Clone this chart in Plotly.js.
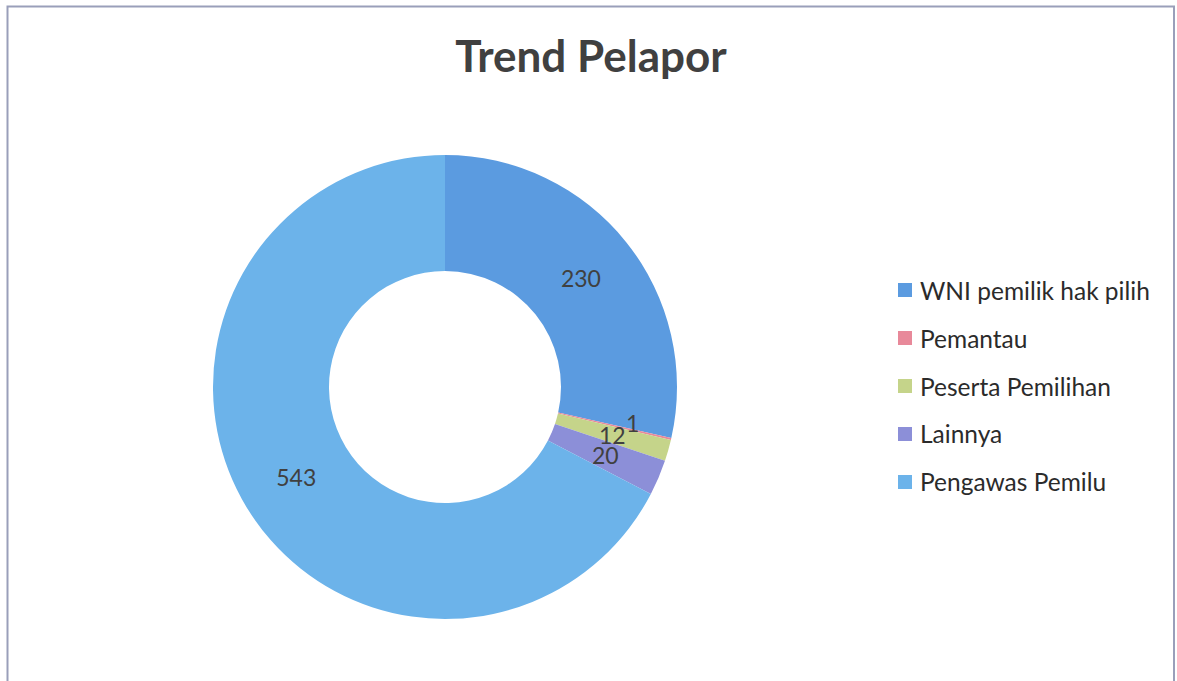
<!DOCTYPE html>
<html>
<head>
<meta charset="utf-8">
<script src="https://cdn.plot.ly/plotly-3.0.1.min.js"></script>
<style>html,body{margin:0;padding:0;background:#fff;}#chart{width:1177px;height:681px;}</style>
</head>
<body>
<div id="chart"></div>
<script>
const categories = ["WNI pemilik hak pilih", "Pemantau", "Peserta Pemilihan", "Lainnya", "Pengawas Pemilu"];
const values = [230, 1, 12, 20, 543];
const colors = ["#5b9be0", "#e8899a", "#c5d48a", "#8c8fd8", "#6cb3ea"];
const titleText = "Trend Pelapor";

const W = 1177, H = 681;
const cx = 445, cy = 387, R = 232, hole = 0.5;
const fontFam = "Lato, 'Open Sans', sans-serif";

// inside text only for the big slices; tiny slices get annotations at their mid-angle
const bigShown = values.map(v => v >= 100 ? "inside" : "none");

const trace = {
  type: "pie",
  labels: categories,
  values: values,
  sort: false,
  direction: "clockwise",
  rotation: 0,
  hole: hole,
  marker: {colors: colors, line: {width: 0}},
  textinfo: "value",
  textposition: bigShown,
  insidetextorientation: "horizontal",
  textfont: {family: fontFam, size: 23, color: "#404040"},
  domain: {x: [(cx - R) / W, (cx + R) / W], y: [(H - cy - R) / H, (H - cy + R) / H]},
  showlegend: false,
  hoverinfo: "label+value+percent"
};

const total = values.reduce((a, b) => a + b, 0);
const annotations = [];
let cum = 0;
const midR = R * (1 + hole) / 2;
values.forEach((v, i) => {
  const a0 = cum / total * 2 * Math.PI;
  cum += v;
  const a1 = cum / total * 2 * Math.PI;
  if (v < 100) {
    const am = (a0 + a1) / 2;
    const px = cx + midR * Math.sin(am);
    const py = cy - midR * Math.cos(am);
    annotations.push({
      x: px / W, y: 1 - py / H, xref: "paper", yref: "paper",
      xanchor: "center", yanchor: "middle",
      text: String(v), showarrow: false,
      xshift: v === 1 ? 18 : 0, yshift: v === 1 ? 3 : 0,
      font: {family: fontFam, size: 23, color: "#404040"}
    });
  }
});

// legend built from categories/colors
const shapes = [{
  type: "rect", xref: "paper", yref: "paper",
  x0: 7.5 / W, x1: 1174 / W, y0: -0.05, y1: 1 - 6.5 / H,
  line: {color: "#9a9fba", width: 2}, fillcolor: "rgba(0,0,0,0)"
}];
const legY0 = 290, legStep = 48, sq = 14, sqX = 898, txtX = 918;
categories.forEach((c, i) => {
  const yc = legY0 + i * legStep;
  shapes.push({
    type: "rect", xref: "paper", yref: "paper",
    x0: sqX / W, x1: (sqX + sq) / W,
    y0: 1 - (yc + sq / 2) / H, y1: 1 - (yc - sq / 2) / H,
    fillcolor: colors[i], line: {width: 0}
  });
  annotations.push({
    x: txtX / W, y: 1 - yc / H, xref: "paper", yref: "paper",
    xanchor: "left", yanchor: "middle", text: c, showarrow: false,
    font: {family: fontFam, size: 24.5, color: "#2b2b2b"}
  });
});

const layout = {
  width: W, height: H,
  margin: {l: 0, r: 0, t: 0, b: 0},
  paper_bgcolor: "#ffffff",
  title: {
    text: "<b>" + titleText + "</b>",
    font: {family: fontFam, size: 44, color: "#404040"},
    x: 591 / W, xanchor: "center", y: 1 - 57 / H, yanchor: "middle"
  },
  showlegend: false,
  shapes: shapes,
  annotations: annotations
};

Plotly.newPlot("chart", [trace], layout, {displayModeBar: false, staticPlot: true});
</script>
</body>
</html>
